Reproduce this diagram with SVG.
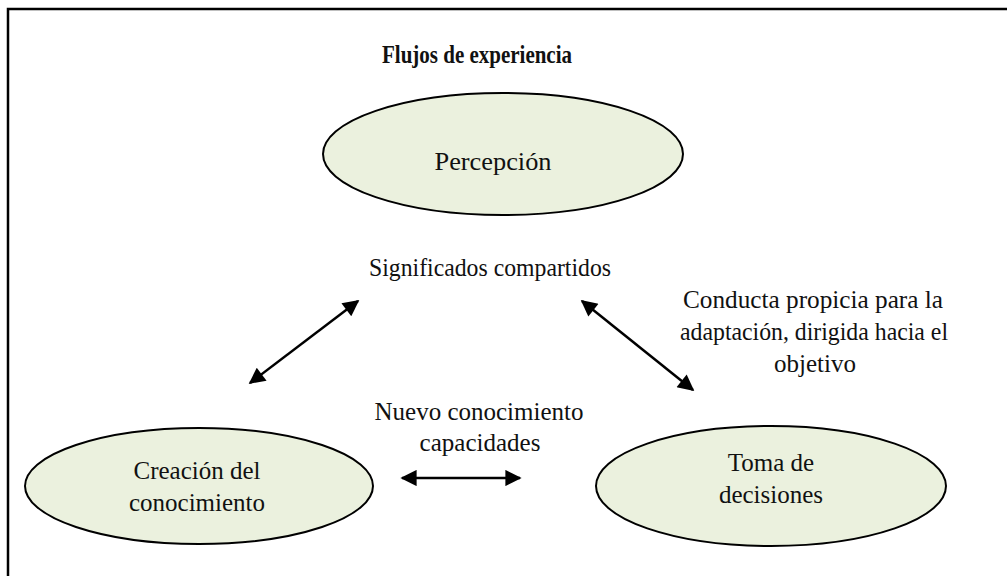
<svg xmlns="http://www.w3.org/2000/svg" width="1007" height="576" viewBox="0 0 1007 576">
<style>
  .node ellipse { fill: #ebf1de; stroke: #000; stroke-width: 2; }
  text { font-family: "Liberation Serif", "Times New Roman", serif; font-size: 25px; fill: #111; text-anchor: middle; }
  .title { font-weight: bold; font-size: 25px; }
  .conn line { stroke: #000; stroke-width: 2.5; marker-start: url(#ah); marker-end: url(#ah); }
</style>
<defs>
  <marker id="ah" viewBox="0 0 10 10" refX="9" refY="5" markerWidth="7.5" markerHeight="6.5" markerUnits="strokeWidth" orient="auto-start-reverse">
    <path d="M0,0 L10,5 L0,10 z" fill="#000"/>
  </marker>
</defs>
<rect width="1007" height="576" fill="#fff"/>
<path d="M8,576 L8,9 L1007,9" fill="none" stroke="#000" stroke-width="2.5"/>
<text class="title" x="477" y="63" textLength="190" lengthAdjust="spacingAndGlyphs">Flujos de experiencia</text>
<g id="percepcion" class="node">
  <ellipse cx="503" cy="154" rx="180" ry="61"/>
  <text x="493" y="170" textLength="117" lengthAdjust="spacingAndGlyphs">Percepción</text>
</g>
<g id="creacion" class="node">
  <ellipse cx="199" cy="486" rx="174" ry="58"/>
  <text x="197" y="479">Creación del</text>
  <text x="197" y="511">conocimiento</text>
</g>
<g id="toma" class="node">
  <ellipse cx="771" cy="486" rx="175" ry="60"/>
  <text x="771" y="471">Toma de</text>
  <text x="771" y="503">decisiones</text>
</g>
<g id="labels">
  <text x="490" y="276" textLength="242" lengthAdjust="spacingAndGlyphs">Significados compartidos</text>
  <text x="813" y="308" textLength="260" lengthAdjust="spacingAndGlyphs">Conducta propicia para la</text>
  <text x="814" y="340" textLength="268" lengthAdjust="spacingAndGlyphs">adaptación, dirigida hacia el</text>
  <text x="815" y="372">objetivo</text>
  <text x="479" y="420">Nuevo conocimiento</text>
  <text x="480" y="451">capacidades</text>
</g>
<g id="connectors" class="conn">
  <line x1="250" y1="383" x2="358" y2="301"/>
  <line x1="582" y1="301" x2="693" y2="390"/>
  <line x1="402" y1="478" x2="520" y2="478"/>
</g>
</svg>
